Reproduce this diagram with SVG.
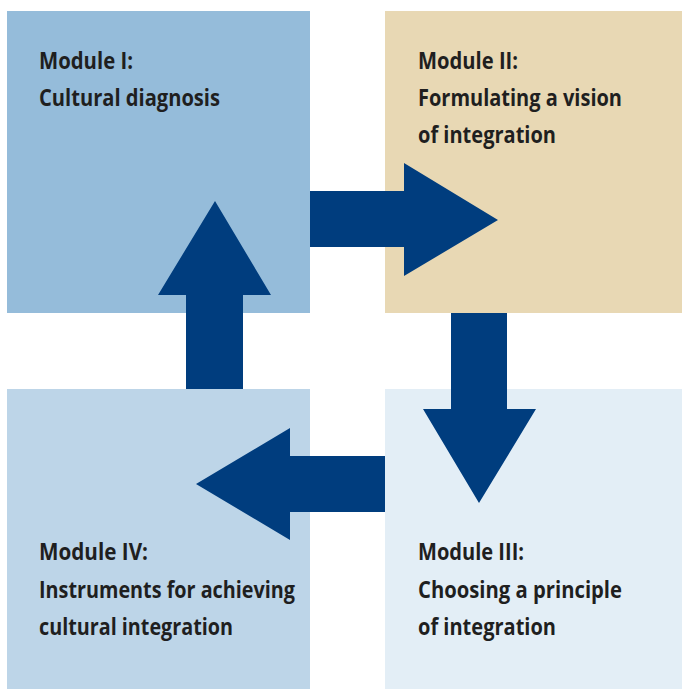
<svg xmlns="http://www.w3.org/2000/svg" width="682" height="689" viewBox="0 0 682 689">
  <style>
    .lbl { font-family: "Open Sans", "Liberation Sans", sans-serif; font-weight: bold; font-size: 23px; fill: #1f1f1f; }
    .arrow { fill: #003d7e; }
  </style>
  <rect width="682" height="689" fill="#ffffff"/>
  <g id="module1">
    <rect x="7" y="11" width="303" height="302" fill="#95bcda"/>
    <text class="lbl" x="39" y="69" textLength="94" lengthAdjust="spacingAndGlyphs">Module I:</text>
    <text class="lbl" x="39" y="106" textLength="181" lengthAdjust="spacingAndGlyphs">Cultural diagnosis</text>
  </g>
  <g id="module2">
    <rect x="385" y="11" width="297" height="302" fill="#e8d8b4"/>
    <text class="lbl" x="418" y="69" textLength="100" lengthAdjust="spacingAndGlyphs">Module II:</text>
    <text class="lbl" x="418" y="106" textLength="204" lengthAdjust="spacingAndGlyphs">Formulating a vision</text>
    <text class="lbl" x="418" y="143" textLength="138" lengthAdjust="spacingAndGlyphs">of integration</text>
  </g>
  <g id="module3">
    <rect x="385" y="389" width="297" height="300" fill="#e3eef6"/>
    <text class="lbl" x="418" y="560" textLength="106" lengthAdjust="spacingAndGlyphs">Module III:</text>
    <text class="lbl" x="418" y="598" textLength="204" lengthAdjust="spacingAndGlyphs">Choosing a principle</text>
    <text class="lbl" x="418" y="635" textLength="138" lengthAdjust="spacingAndGlyphs">of integration</text>
  </g>
  <g id="module4">
    <rect x="7" y="389" width="303" height="300" fill="#bdd5e8"/>
    <text class="lbl" x="39" y="560" textLength="109" lengthAdjust="spacingAndGlyphs">Module IV:</text>
    <text class="lbl" x="39" y="598" textLength="256" lengthAdjust="spacingAndGlyphs">Instruments for achieving</text>
    <text class="lbl" x="39" y="635" textLength="194" lengthAdjust="spacingAndGlyphs">cultural integration</text>
  </g>
  <g id="connectors">
    <polygon class="arrow" points="310,191 404,191 404,163 498,220 404,276 404,247 310,247"/>
    <polygon class="arrow" points="451,313 507,313 507,409 536,409 479,503 423,409 451,409"/>
    <polygon class="arrow" points="385,456 290,456 290,428 196,484 290,540 290,512 385,512"/>
    <polygon class="arrow" points="186,389 186,295 158,295 215,201 271,295 243,295 243,389"/>
  </g>
</svg>
